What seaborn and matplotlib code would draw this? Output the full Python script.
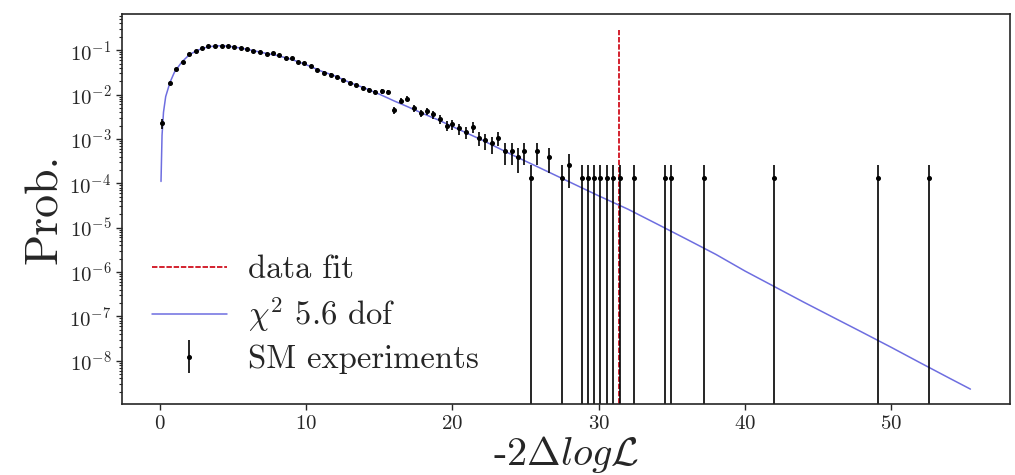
import matplotlib
matplotlib.use("Agg")
import matplotlib.pyplot as plt
import numpy as np
import pandas as pd
import seaborn as sns

# histogram of -2 delta log L from SM pseudo-experiments
bin_x = [0.18, 0.68, 1.09, 1.55, 2.0, 2.46, 2.85, 3.3, 3.76, 4.22, 4.67, 5.08,
         5.52, 5.97, 6.38, 6.84, 7.3, 7.71, 8.16, 8.62, 9.0, 9.46, 9.87, 10.33,
         10.76, 11.22, 11.67, 12.08, 12.54, 13.0, 13.41, 13.86, 14.32, 14.7,
         15.16, 15.62, 16.03, 16.48, 16.92, 17.37, 17.83, 18.24, 18.7, 19.15,
         19.6, 20.0, 20.47, 20.93, 21.39, 21.82, 22.23, 22.69, 23.14, 23.6,
         24.05, 24.45, 24.9, 25.36, 25.77, 26.63, 27.52, 27.97, 28.84, 29.25,
         29.69, 30.1, 30.55, 31.0, 31.46, 32.38, 34.5, 34.95, 37.16, 42.0,
         49.1, 52.6]
counts = [17, 136, 288, 409, 606, 727, 856, 932, 947, 947, 940, 902,
          856, 788, 742, 689, 636, 659, 583, 515, 492, 409, 386, 326,
          273, 235, 212, 187, 158, 137, 121, 108, 97, 86,
          89, 86, 34, 55, 61, 37, 29, 32, 27, 21,
          15, 16, 13, 11, 14, 8, 7, 6, 8, 4,
          4, 3, 4, 1, 4, 3, 1, 2, 1, 1,
          1, 1, 1, 1, 1, 1, 1, 1, 1, 1,
          1, 1]
prob_per_count = 1.32e-4

# chi2 fit curve (5.6 dof)
chi2_x = [0.08, 0.15, 0.25, 0.4, 0.7, 1.0, 1.5, 2.0, 2.5, 3.0, 3.5, 4.0, 4.5,
          5.0, 6.0, 7.0, 8.0, 9.0, 10.0, 11.0, 12.0, 13.0, 14.0, 15.0, 16.0,
          17.0, 18.0, 19.0, 20.0, 22.0, 24.0, 26.0, 28.0, 30.0, 32.0, 34.0,
          36.0, 38.0, 40.0, 42.0, 44.0, 46.0, 48.0, 50.0, 52.0, 54.0, 55.4]
chi2_y = [1.1e-4, 1.2e-3, 4.0e-3, 9.0e-3, 0.019, 0.032, 0.054, 0.078, 0.097,
          0.112, 0.121, 0.125, 0.124, 0.119, 0.104, 0.088, 0.076, 0.062, 0.047,
          0.034, 0.026, 0.0185, 0.014, 0.0102, 0.0072, 0.0052, 0.0037, 0.0027,
          0.0019, 9.5e-4, 4.5e-4, 2.2e-4, 1.07e-4, 5.2e-5, 2.6e-5, 1.2e-5,
          5.5e-6, 2.5e-6, 1.05e-6, 4.7e-7, 2.1e-7, 9.6e-8, 4.4e-8, 2.0e-8,
          8.9e-9, 4.0e-9, 2.3e-9]

data_fit = 31.35
fit_line_top = 0.28

sns.set_style("ticks")
plt.rcParams["font.family"] = "serif"
plt.rcParams["font.serif"] = ["cmr10", "DejaVu Serif"]
plt.rcParams["mathtext.fontset"] = "cm"
plt.rcParams["axes.formatter.use_mathtext"] = True
plt.rcParams["axes.unicode_minus"] = True

fig = plt.figure(figsize=(10.15, 4.75), dpi=100)
ax = fig.add_axes([0.120, 0.149, 0.875, 0.822])
ax.set_yscale("log")

ylim = (1.05e-9, 0.66)

counts_arr = np.array(counts, dtype=float)
prob = counts_arr * prob_per_count
err = np.sqrt(counts_arr) * prob_per_count

fit_handle, = ax.plot([data_fit, data_fit], [ylim[0] * 0.5, fit_line_top],
                      color="#d0101e", ls=(0, (3, 1)), lw=1.3, label="data fit")

curve = pd.DataFrame({"x": chi2_x, "y": chi2_y})
sns.lineplot(data=curve, x="x", y="y", ax=ax, color="#6e6ee0", lw=1.1,
             estimator=None, label=r"$\chi^2$ 5.6 dof")
chi_handle = ax.lines[-1]

eb = ax.errorbar(bin_x, prob, yerr=err, fmt="o", color="black", ms=2.6,
                 elinewidth=1.2, capsize=0, label="SM experiments")

ax.set_xlim(-2.6, 58.1)
ax.set_ylim(*ylim)
ax.set_xticks([0, 10, 20, 30, 40, 50])

ax.set_ylabel("Prob.", fontsize=33, labelpad=2)
ax.set_xlabel(r"-2$\Delta log\mathcal{L}$", fontsize=29, labelpad=1)
ax.tick_params(axis="both", which="major", labelsize=15, length=4, width=1)
ax.tick_params(axis="y", which="minor", length=2.5, width=0.8)
for s in ax.spines.values():
    s.set_linewidth(1.2)

ax.legend(handles=[fit_handle, chi_handle, eb],
          labels=["data fit", r"$\chi^2$ 5.6 dof", "SM experiments"],
          loc="lower left", frameon=False, fontsize=23.5, handlelength=2.3,
          handletextpad=0.65, labelspacing=0.33, borderaxespad=0.52)

plt.savefig("out.png", dpi=100)
